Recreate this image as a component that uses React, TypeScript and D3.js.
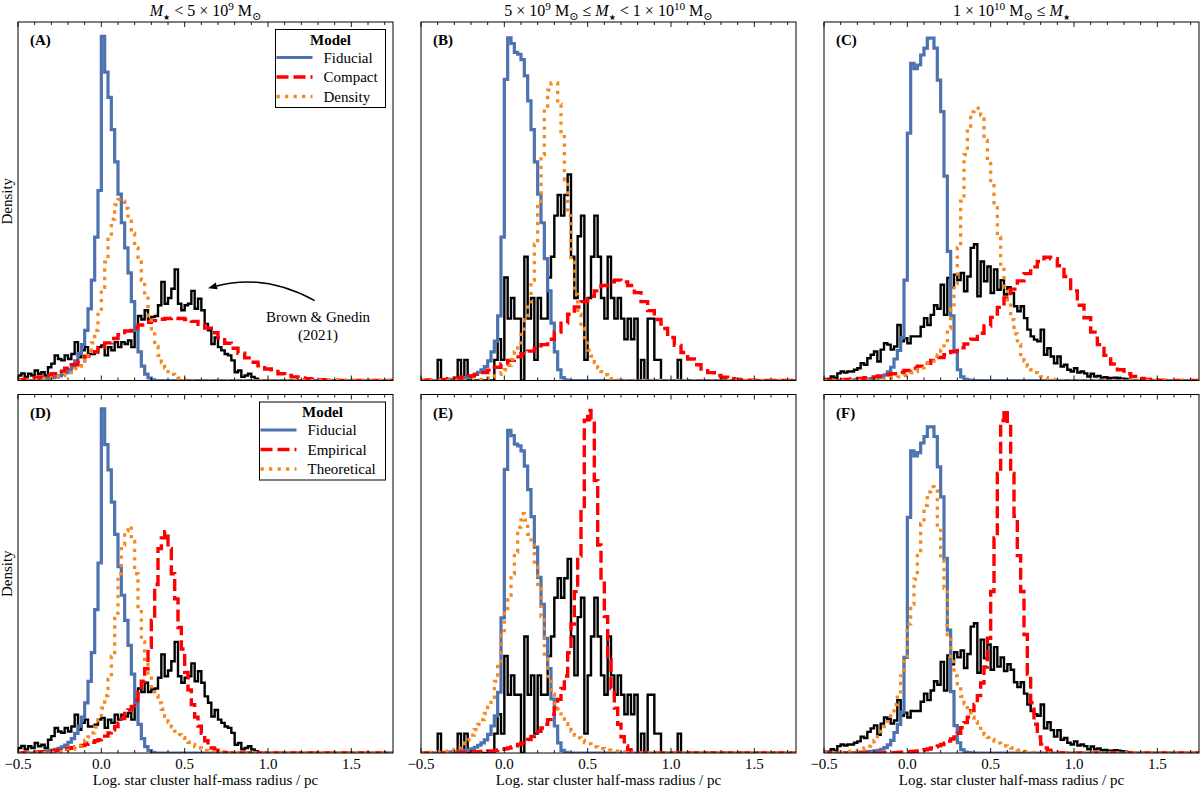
import React from "react";
import * as d3 from "d3";

type Hist = { start: number; width: number; values: number[] };

const BIN = 0.02;
const WIDE_BIN = 0.04;

const xDomain: [number, number] = [-0.5, 1.75];
const xMajorTicks = [-0.5, 0.0, 0.5, 1.0, 1.5];

// Fiducial model, one histogram per stellar-mass bin
const fiducialLow: Hist = {
	start: -0.4,
	width: BIN,
	values: [0.2, 0.3, 0.4, 0.5, 0.6, 0.8, 1.0, 1.3, 1.7, 2.2, 3, 4, 5.5, 7.5, 10, 14, 20, 28, 40, 53, 96, 86, 79, 70, 61, 52, 44, 37, 30, 22, 14, 8, 4, 1.8, 0.7, 0.2],
};
const fiducialMid: Hist = {
	start: -0.4,
	width: BIN,
	values: [0.1, 0.15, 0.2, 0.3, 0.35, 0.4, 0.5, 0.6, 0.8, 1.0, 1.2, 1.7, 2.3, 3.0, 3.9, 5.5, 8, 11, 18, 40, 84, 95.6, 94, 91.5, 91, 89.5, 85, 78, 70, 61, 52, 44, 34, 25, 16, 8, 3, 0.8, 0.2],
};
const fiducialHigh: Hist = {
	start: -0.4,
	width: BIN,
	values: [0.05, 0.05, 0.1, 0.1, 0.15, 0.2, 0.25, 0.3, 0.4, 0.5, 0.6, 0.8, 1.1, 1.6, 2.4, 3.7, 6, 8.4, 12, 28, 69, 88.5, 87, 88, 90.8, 92.7, 95.5, 95.5, 92.7, 83.8, 75, 57, 36, 18, 8, 3, 1, 0.3, 0.1],
};

// "Compact" variant (top row)
const compactLow: Hist = {
	start: -0.5,
	width: WIDE_BIN,
	values: [0.2, 0.4, 0.7, 1.0, 1.4, 1.9, 2.6, 3.4, 4.4, 5.5, 6.8, 8, 9.2, 10.5, 11.7, 12.8, 13.8, 14.7, 15.5, 16.2, 16.7, 17.1, 17.3, 17.4, 17.3, 17.0, 16.5, 15.7, 14.6, 13.3, 11.9, 10.4, 9.0, 7.6, 6.3, 5.1, 4.1, 3.2, 2.5, 1.9, 1.4, 1.0, 0.7, 0.5, 0.3, 0.2, 0.1, 0.1],
};
const compactMid: Hist = {
	start: -0.5,
	width: WIDE_BIN,
	values: [0.1, 0.15, 0.2, 0.3, 0.5, 0.7, 1.0, 1.3, 1.7, 2.2, 2.9, 3.7, 4.6, 5.6, 6.6, 7.5, 8.2, 9, 10, 11.5, 13.5, 16, 18.5, 20.5, 22, 23.5, 25, 26.5, 27.5, 28, 27.5, 26.5, 24.5, 22, 19.5, 17, 14.5, 12, 9.8, 7.8, 6, 4.4, 3.2, 2.2, 1.4, 0.9, 0.5, 0.3, 0.15, 0.1],
};
const compactHigh: Hist = {
	start: -0.5,
	width: WIDE_BIN,
	values: [0.1, 0.15, 0.2, 0.3, 0.45, 0.6, 0.8, 1.0, 1.3, 1.6, 1.9, 2.3, 2.8, 3.4, 4.0, 4.8, 5.6, 6.4, 7.2, 8.1, 9.1, 10.2, 11.5, 13.2, 15.2, 17.6, 20.4, 23, 25.5, 27.8, 29.8, 31.7, 33.2, 34.4, 34, 32, 29, 25, 21, 17.5, 13.5, 10, 7, 4.6, 3, 1.9, 1.1, 0.6, 0.3, 0.15, 0.1],
};

// "Density" variant (top row)
const densityLow: Hist = {
	start: -0.4,
	width: BIN,
	values: [0.2, 0.3, 0.4, 0.5, 0.6, 0.8, 0.9, 1.1, 1.4, 1.8, 2.2, 2.7, 3.3, 4, 5, 6.5, 8, 10.5, 14, 19, 26, 33, 40, 45, 49, 50.5, 50, 48, 45, 41, 37, 33, 28, 23, 18, 13, 9.5, 7, 5, 3.5, 2.5, 1.7, 1.1, 0.7, 0.4, 0.2, 0.1],
};
const densityMid: Hist = {
	start: -0.2,
	width: BIN,
	values: [0.1, 0.15, 0.2, 0.3, 0.5, 0.7, 1.0, 1.3, 1.7, 2.2, 3.0, 4.2, 5.8, 8, 10.5, 13.5, 17, 21, 28, 38, 50, 63, 76, 81, 83, 83, 77, 68, 56, 46, 33, 24, 18.5, 14.5, 11, 8.5, 6.8, 5, 3.5, 2.5, 1.6, 1.0, 0.5, 0.2],
};
const densityHigh: Hist = {
	start: -0.2,
	width: BIN,
	values: [0.1, 0.15, 0.3, 0.4, 0.5, 0.7, 0.85, 1.0, 1.2, 1.4, 1.7, 2.1, 2.5, 3, 3.5, 4.1, 4.7, 5.4, 6.2, 7.2, 8.5, 10.5, 14.5, 20, 27, 37, 50, 63, 70.5, 75, 76, 76, 74, 67, 61, 55, 49, 40, 31, 26, 21, 17, 13, 10, 7.2, 5.5, 4.0, 3.0, 2.2, 1.6, 1.1, 0.8, 0.5, 0.3, 0.2, 0.1],
};

// "Empirical" variant (bottom row)
const empiricalLow: Hist = {
	start: -0.5,
	width: BIN,
	values: [0.05, 0.05, 0.1, 0.1, 0.15, 0.2, 0.25, 0.3, 0.35, 0.45, 0.55, 0.65, 0.8, 0.95, 1.1, 1.3, 1.5, 1.7, 1.9, 2.1, 2.4, 2.7, 3.0, 3.4, 3.7, 4.2, 4.7, 5.6, 6.5, 7.4, 8.3, 9.6, 11, 12, 13, 14.8, 17, 20, 23.5, 29.5, 37, 47, 57, 60, 61.7, 57, 50, 43, 35, 29, 22.5, 17.6, 13.5, 10, 7.5, 5.5, 3.4, 2.2, 1.4, 0.8, 0.4, 0.2, 0.1],
};
const empiricalMid: Hist = {
	start: -0.3,
	width: BIN,
	values: [0.05, 0.1, 0.16, 0.21, 0.27, 0.32, 0.37, 0.42, 0.48, 0.53, 0.58, 0.64, 0.74, 0.9, 1.06, 1.27, 1.49, 1.8, 2.1, 2.5, 3.0, 3.4, 4.0, 4.9, 5.5, 6.4, 7.4, 8.5, 9.9, 11.5, 13.3, 15.9, 19.1, 22.8, 29.7, 38.2, 47.8, 58.4, 72.2, 98.6, 101.5, 98.8, 80.7, 61.6, 51, 40.4, 27.6, 19.1, 13.3, 8.5, 4.8, 2.1, 1.0, 0.4, 0.16],
};
const empiricalHigh: Hist = {
	start: -0.2,
	width: BIN,
	values: [0.05, 0.05, 0.05, 0.1, 0.1, 0.1, 0.1, 0.16, 0.21, 0.26, 0.32, 0.42, 0.53, 0.63, 0.79, 0.95, 1.16, 1.47, 1.79, 2.1, 2.5, 2.9, 3.5, 4.1, 4.7, 5.8, 7.4, 8.9, 10.5, 12.4, 14.2, 16.8, 20.5, 25.2, 33.6, 47.3, 63, 81.9, 97.4, 100.4, 96.6, 81.9, 69.3, 57.8, 47.3, 34.7, 23.1, 14.7, 8.4, 4.7, 2.6, 1.5, 0.84, 0.42, 0.21, 0.1],
};

// "Theoretical" variant (bottom row)
const theoreticalLow: Hist = {
	start: -0.4,
	width: BIN,
	values: [0.05, 0.05, 0.1, 0.1, 0.15, 0.2, 0.25, 0.3, 0.4, 0.6, 0.8, 1.1, 1.5, 2.0, 2.7, 3.5, 4.5, 5.6, 7.2, 9.2, 12.5, 16, 20.5, 27, 39, 50, 58, 62, 63.2, 59, 50, 40, 31, 25.5, 21.5, 18.5, 16, 14, 12.2, 10.2, 8.6, 7.3, 6.1, 5.1, 4.3, 3.6, 3, 2.4, 1.8, 1.4, 1.0, 0.75, 0.5, 0.35, 0.2, 0.1],
};
const theoreticalMid: Hist = {
	start: -0.5,
	width: BIN,
	values: [0.05, 0.11, 0.16, 0.21, 0.27, 0.32, 0.37, 0.42, 0.53, 0.85, 1.06, 1.49, 2.1, 3.0, 3.9, 5.3, 6.9, 8.5, 9.9, 11.7, 13.6, 16.5, 21.2, 26.6, 35, 41.4, 46.7, 53.1, 59.5, 66.9, 70.9, 69, 64.8, 61.6, 55.2, 48.9, 40.4, 28.7, 21.8, 17.5, 14.7, 12.3, 10.1, 8.7, 7.6, 6.5, 5.3, 4.5, 3.7, 3.1, 2.7, 2.2, 1.8, 1.5, 1.3, 1.06, 0.85, 0.64, 0.53, 0.42, 0.32, 0.21, 0.11],
};
const theoreticalHigh: Hist = {
	start: -0.5,
	width: BIN,
	values: [0.05, 0.05, 0.1, 0.1, 0.16, 0.21, 0.32, 0.42, 0.53, 0.63, 0.84, 1.16, 1.47, 2.0, 2.7, 3.7, 4.8, 6.3, 7.7, 9.2, 11.6, 14.2, 17.9, 22.6, 28.4, 37.8, 43.6, 50.9, 57.8, 67.2, 72.5, 76.5, 78, 76.7, 66.2, 56.7, 48.3, 34.7, 26.8, 22.6, 19.4, 16.6, 14.5, 12.2, 10.5, 9.1, 7.8, 6.3, 5.4, 4.6, 4.0, 3.5, 2.9, 2.5, 2.1, 1.8, 1.47, 1.05, 0.84, 0.63, 0.47, 0.32, 0.21, 0.1],
};

// Brown & Gnedin (2021) observed clusters
const obsLow: Hist = {
	start: -0.5,
	width: BIN,
	values: [1.4, 2, 1, 1.9, 1.4, 2.8, 1.9, 2.3, 1.4, 3.7, 4.7, 7, 6, 5.6, 7, 6, 7.4, 10.7, 6.5, 8.4, 9.3, 7.4, 7.4, 7.9, 9.3, 9.8, 7, 9.3, 8.4, 10.7, 9.3, 10.7, 10.2, 11.2, 9.3, 14, 18, 17, 19.6, 17, 17.7, 18, 21, 27.5, 21.4, 23, 25.6, 31, 21.4, 19.6, 21, 21.4, 25, 20, 22.8, 19.6, 15.8, 14, 10.2, 12, 9.3, 8.4, 7.4, 7, 5.6, 2.3, 2.8, 1, 1.4, 1.9, 1, 0.5],
};
const obsMid: Hist = {
	start: -0.5,
	width: BIN,
	values: [0, 0, 0, 0, 0, 5.75, 0, 0, 0, 0, 0, 5.75, 0, 5.75, 0, 0, 0, 0, 0, 0, 0, 0, 5.75, 11.5, 5.75, 28.75, 17.25, 23, 17.25, 17.25, 0, 34.5, 17.25, 23, 5.75, 23, 17.25, 17.25, 28.75, 34.5, 46, 51.75, 46, 51.75, 57.5, 34.5, 23, 40.25, 46, 5.75, 23, 34.5, 46, 34.5, 23, 17.25, 34.5, 23, 17.25, 23, 17.25, 11.5, 17.25, 11.5, 17.25, 0, 5.75, 0, 17.25, 17.25, 5.75, 5.75, 0, 0, 0, 0, 0, 5.75],
};
const obsHigh: Hist = {
	start: -0.5,
	width: BIN,
	values: [0.4, 0.4, 1.1, 0.7, 2, 2.5, 2.2, 2.5, 2.5, 3, 3.4, 4.8, 4.4, 6.2, 7.2, 8.1, 5.3, 8.6, 10.4, 10, 8.6, 9.5, 15.5, 10.9, 11.8, 10.4, 12.3, 12.3, 12.3, 15, 17.4, 15.5, 18.3, 21, 20, 26.7, 18.3, 28.6, 26, 29.5, 28, 30, 24.9, 29, 37, 38, 23.5, 33.2, 27.7, 31.8, 24.4, 31, 25.3, 28, 24, 26, 24.4, 20.7, 19.3, 20.7, 17.4, 14.2, 12.3, 11.4, 10.9, 14.2, 7.2, 9, 6.7, 4.8, 6.7, 3.9, 4.4, 3, 2.5, 3.4, 2.2, 2.5, 2, 1.1, 1.9, 1.1, 1.3, 0.8, 0.9, 0.7, 0.7, 0.8, 0.7, 0.5, 0.4, 0.2],
};

const panelLabels = ["(A)", "(B)", "(C)", "(D)", "(E)", "(F)"];
const panelYMax = [100, 100, 100, 100, 106.2, 105];
const topModelNames = ["Fiducial", "Compact", "Density"];
const bottomModelNames = ["Fiducial", "Empirical", "Theoretical"];
const xLabel = "Log. star cluster half-mass radius / pc";
const yLabel = "Density";

type Seg = { t: string; it?: boolean; sub?: boolean; sup?: boolean; star?: boolean };
const massTitles: Seg[][] = [
	[{ t: "M", it: true }, { t: "★", sub: true, star: true }, { t: " < 5 × 10" }, { t: "9", sup: true }, { t: " M" }, { t: "⊙", sub: true }],
	[{ t: "5 × 10" }, { t: "9", sup: true }, { t: " M" }, { t: "⊙", sub: true }, { t: " ≤ " }, { t: "M", it: true }, { t: "★", sub: true, star: true }, { t: " < 1 × 10" }, { t: "10", sup: true }, { t: " M" }, { t: "⊙", sub: true }],
	[{ t: "1 × 10" }, { t: "10", sup: true }, { t: " M" }, { t: "⊙", sub: true }, { t: " ≤ " }, { t: "M", it: true }, { t: "★", sub: true, star: true }],
];

// annotation for the observed sample, in data units of panel A
const noteText = ["Brown & Gnedin", "(2021)"];
const noteAt: [number, number] = [1.3, 16.2];
const arrowTail: [number, number] = [1.28, 22.3];
const arrowHead: [number, number] = [0.64, 25.7];

const W = 1200;
const H = 792;
const FONT = "'Liberation Serif', 'DejaVu Serif', 'Times New Roman', serif";
const colLeft = [18, 421, 824];
const rowTop = [22, 394.5];
const panelW = 375;
const panelH = 358.5;

const colors = { obs: "#000000", fid: "#4c72b0", alt1: "#ff0000", alt2: "#f5891f" };
const styles = {
	obs: { stroke: colors.obs, width: 2.4, dash: undefined as string | undefined },
	fid: { stroke: colors.fid, width: 3.2, dash: undefined as string | undefined },
	alt1: { stroke: colors.alt1, width: 3.4, dash: "12 5" },
	alt2: { stroke: colors.alt2, width: 3.3, dash: "3.3 5.2" },
};

const panels = [
	{ obs: obsLow, fid: fiducialLow, alt1: compactLow, alt2: densityLow },
	{ obs: obsMid, fid: fiducialMid, alt1: compactMid, alt2: densityMid },
	{ obs: obsHigh, fid: fiducialHigh, alt1: compactHigh, alt2: densityHigh },
	{ obs: obsLow, fid: fiducialLow, alt1: empiricalLow, alt2: theoreticalLow },
	{ obs: obsMid, fid: fiducialMid, alt1: empiricalMid, alt2: theoreticalMid },
	{ obs: obsHigh, fid: fiducialHigh, alt1: empiricalHigh, alt2: theoreticalHigh },
].map((s, i) => ({ ...s, label: panelLabels[i], yMax: panelYMax[i], row: Math.floor(i / 3), col: i % 3 }));

// pad a histogram out to the axis limits so the step line runs along zero
function stepPoints(h: Hist): [number, number][] {
	const pts: [number, number][] = [[xDomain[0], 0]];
	h.values.forEach((v, i) => pts.push([h.start + i * h.width, v]));
	pts.push([h.start + h.values.length * h.width, 0]);
	pts.push([xDomain[1], 0]);
	return pts;
}

function MathText({ segs, x, y, size }: { segs: Seg[]; x: number; y: number; size: number }) {
	let shift = 0;
	const spans = segs.map((s, i) => {
		const target = s.sub ? size * 0.22 : s.sup ? -size * 0.38 : 0;
		const dy = target - shift;
		shift = target;
		const fs = s.star ? size * 0.5 : s.sub || s.sup ? size * 0.7 : undefined;
		return (
			<tspan key={i} dy={dy} fontStyle={s.it ? "italic" : undefined} fontSize={fs} fontFamily={s.star ? "'DejaVu Sans', sans-serif" : undefined}>
				{s.t}
			</tspan>
		);
	});
	return (
		<text x={x} y={y} textAnchor="middle" fontSize={size} style={{ whiteSpace: "pre" }}>
			{spans}
		</text>
	);
}

function Panel({ p, idx }: { p: (typeof panels)[number]; idx: number }) {
	const left = colLeft[p.col];
	const top = rowTop[p.row];
	const bottom = top + panelH;
	const right = left + panelW;
	const x = d3.scaleLinear().domain(xDomain).range([left, right]);
	const y = d3.scaleLinear().domain([0, p.yMax]).range([bottom, top]);
	const line = d3
		.line<[number, number]>()
		.x((d) => x(d[0]))
		.y((d) => y(d[1]))
		.curve(d3.curveStepAfter);
	const minor = d3.range(23).map((i) => Math.round((-0.5 + i * 0.1) * 10) / 10);
	const clipId = `clip-${idx}`;
	const names = p.row === 0 ? topModelNames : bottomModelNames;
	const legendW = p.row === 0 ? 110 : 126;
	const legendX = right - legendW - 7.5;
	const legendY = top + 7.5;
	const keys: ("fid" | "alt1" | "alt2")[] = ["fid", "alt1", "alt2"];

	// curved arrow for the observed-sample note
	let arrow: React.ReactNode = null;
	if (idx === 0) {
		const [x0, y0] = [x(arrowTail[0]), y(arrowTail[1])];
		const [x2, y2] = [x(arrowHead[0]), y(arrowHead[1])];
		const rad = -0.2;
		const cx = (x0 + x2) / 2 + rad * (y2 - y0);
		const cy = (y0 + y2) / 2 - rad * (x2 - x0);
		const ang = Math.atan2(y2 - cy, x2 - cx);
		const len = 9;
		const hw = 3.5;
		const bx = x2 - len * Math.cos(ang);
		const by = y2 - len * Math.sin(ang);
		const head = [
			[x2, y2],
			[bx + hw * Math.sin(ang), by - hw * Math.cos(ang)],
			[bx - hw * Math.sin(ang), by + hw * Math.cos(ang)],
		];
		arrow = (
			<g>
				<path d={`M${x0},${y0} Q${cx},${cy} ${bx},${by}`} fill="none" stroke="#000" strokeWidth={1.5} />
				<path d={`M${head.map((h) => h.join(",")).join("L")}Z`} fill="#000" />
				<text x={x(noteAt[0])} y={y(noteAt[1])} textAnchor="middle" fontSize={15}>
					<tspan x={x(noteAt[0])}>{noteText[0]}</tspan>
					<tspan x={x(noteAt[0])} dy={18}>
						{noteText[1]}
					</tspan>
				</text>
			</g>
		);
	}

	return (
		<g>
			<defs>
				<clipPath id={clipId}>
					<rect x={left} y={top} width={panelW} height={panelH} />
				</clipPath>
			</defs>
			<g clipPath={`url(#${clipId})`} fill="none" strokeLinejoin="miter">
				{(["obs", "fid", "alt1", "alt2"] as const).map((k) => (
					<path
						key={k}
						d={line(stepPoints(p[k])) || ""}
						stroke={styles[k].stroke}
						strokeWidth={styles[k].width}
						strokeDasharray={styles[k].dash}
					/>
				))}
			</g>
			{/* frame and inward ticks on top and bottom */}
			<rect x={left} y={top} width={panelW} height={panelH} fill="none" stroke="#000" strokeWidth={1} />
			{minor.map((t) => {
				const major = xMajorTicks.some((m) => Math.abs(m - t) < 1e-6);
				const len = major ? 5 : 3;
				return (
					<g key={t} stroke="#000" strokeWidth={0.9}>
						<line x1={x(t)} x2={x(t)} y1={bottom} y2={bottom - len} />
						<line x1={x(t)} x2={x(t)} y1={top} y2={top + len} />
					</g>
				);
			})}
			{p.row === 1 &&
				xMajorTicks.map((t) => (
					<text key={t} x={x(t)} y={bottom + 16} textAnchor="middle" fontSize={15}>
						{t.toFixed(1).replace("-", "−")}
					</text>
				))}
			{p.row === 1 && (
				<text x={(left + right) / 2} y={H - 7} textAnchor="middle" fontSize={15}>
					{xLabel}
				</text>
			)}
			{p.col === 0 && (
				<text transform={`translate(12,${(top + bottom) / 2}) rotate(-90)`} textAnchor="middle" fontSize={15}>
					{yLabel}
				</text>
			)}
			{p.row === 0 && <MathText segs={massTitles[p.col]} x={(left + right) / 2} y={top - 6} size={16} />}
			<text x={left + 12} y={top + 23} fontSize={15} fontWeight="bold">
				{p.label}
			</text>
			{arrow}
			{(idx === 0 || idx === 3) && (
				<g>
					<rect x={legendX} y={legendY} width={legendW} height={78} fill="#fff" stroke="#000" strokeWidth={1} />
					<text x={legendX + legendW / 2} y={legendY + 15} textAnchor="middle" fontSize={15} fontWeight="bold">
						Model
					</text>
					{keys.map((k, i) => {
						const ly = legendY + 28 + i * 19.5;
						return (
							<g key={k}>
								<line
									x1={legendX + 1}
									x2={legendX + 37}
									y1={ly}
									y2={ly}
									stroke={styles[k].stroke}
									strokeWidth={styles[k].width}
									strokeDasharray={styles[k].dash}
								/>
								<text x={legendX + 48} y={ly + 5} fontSize={15}>
									{names[i]}
								</text>
							</g>
						);
					})}
				</g>
			)}
		</g>
	);
}

export default function App() {
	return (
		<svg
			width={W}
			height={H}
			viewBox={`0 0 ${W} ${H}`}
			style={{ position: "absolute", left: 0, top: 0, background: "#fff" }}
			fontFamily={FONT}
		>
			<rect width={W} height={H} fill="#fff" />
			{panels.map((p, i) => (
				<Panel key={i} p={p} idx={i} />
			))}
		</svg>
	);
}
